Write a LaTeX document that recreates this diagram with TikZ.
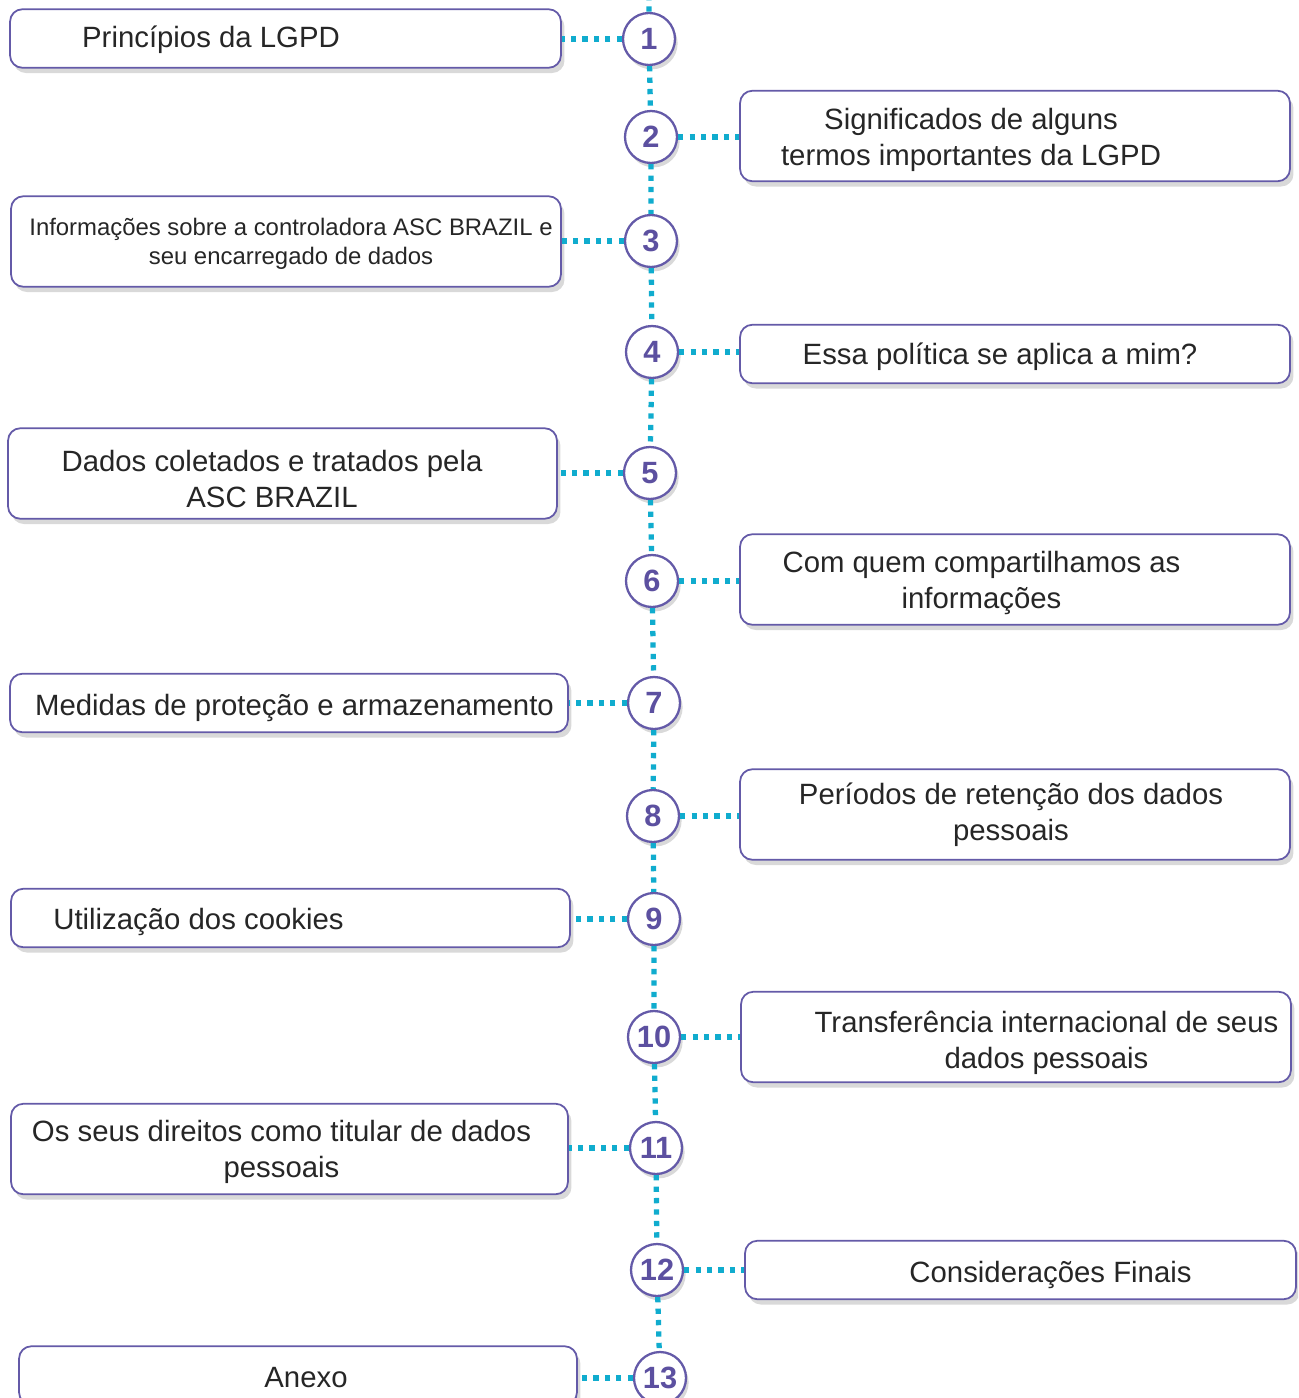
\documentclass[tikz,border=0pt]{standalone}
\usepackage{fontspec}
\setmainfont{Liberation Sans}
\usetikzlibrary{shadows}
\definecolor{lilac}{RGB}{100,90,168}
\definecolor{numink}{RGB}{92,80,160}
\definecolor{dotline}{RGB}{16,172,206}
\definecolor{ink}{RGB}{38,38,38}

\begin{document}
\begin{tikzpicture}[x=0.02cm, y=-0.02cm,
  topic/.style={draw=lilac, line width=1pt, rounded corners=7pt, fill=white,
    drop shadow={opacity=0.3, shadow xshift=2pt, shadow yshift=-3pt}},
  short/.style={minimum height=1.17cm},
  tall/.style={minimum height=1.81cm},
  txt/.style={text=ink, align=center, font=\fontsize{16.7}{20.5}\selectfont},
  smalltxt/.style={text=ink, align=center, font=\fontsize{13.6}{16.5}\selectfont},
  num/.style={circle, draw=lilac, line width=1.3pt, fill=white, minimum size=1.04cm,
    inner sep=0pt, text=numink, font=\fontsize{17.5}{20}\selectfont\bfseries,
    drop shadow={opacity=0.3, shadow xshift=1.5pt, shadow yshift=-2.5pt}},
  link/.style={dotline, line width=3pt, dash pattern=on 3pt off 3.5pt}]
\clip (0,0) rectangle (1298,1398);

\node [topic, short, minimum width=11.02cm] (b1) at (285.5,38.5) {};
\node [topic, tall, minimum width=11cm] (b2) at (1015,136) {};
\node [topic, tall, minimum width=11cm] (b3) at (286,241.5) {};
\node [topic, short, minimum width=11cm] (b4) at (1015,354) {};
\node [topic, tall, minimum width=10.98cm] (b5) at (282.5,473.5) {};
\node [topic, tall, minimum width=11cm] (b6) at (1015,579.5) {};
\node [topic, short, minimum width=11.16cm] (b7) at (289,703) {};
\node [topic, tall, minimum width=11cm] (b8) at (1015,814.5) {};
\node [topic, short, minimum width=11.18cm] (b9) at (290.5,918) {};
\node [topic, tall, minimum width=11cm] (b10) at (1016,1037) {};
\node [topic, tall, minimum width=11.14cm] (b11) at (289.5,1149) {};
\node [topic, short, minimum width=11.02cm] (b12) at (1020.5,1270) {};
\node [topic, short, minimum width=11.16cm] (b13) at (298,1375.5) {};

\node [txt] (t1) at (211,40) {Princípios da LGPD};
\node [txt] (t2) at (971,140) {Significados de alguns\\termos importantes da LGPD};
\node [smalltxt] (t3) at (291,244) {Informações sobre a controladora ASC BRAZIL e\\seu encarregado de dados};
\node [txt] (t4) at (1000,357) {Essa política se aplica a mim?};
\node [txt] (t5) at (272,479) {Dados coletados e tratados pela\\ASC BRAZIL};
\node [txt] (t6) at (981.5,583) {Com quem compartilhamos as\\informações};
\node [txt] (t7) at (294.5,708) {Medidas de proteção e armazenamento};
\node [txt] (t8) at (1011,815) {Períodos de retenção dos dados\\pessoais};
\node [txt] (t9) at (198.5,922) {Utilização dos cookies};
\node [txt] (t10) at (1046.5,1043) {Transferência internacional de seus\\dados pessoais};
\node [txt] (t11) at (281.5,1152) {Os seus direitos como titular de dados\\pessoais};
\node [txt] (t12) at (1050.5,1275) {Considerações Finais};
\node [txt] (t13) at (306,1378) {Anexo};

\foreach \n/\x/\y in {1/649/39, 2/651/137, 3/651/241, 4/652/352, 5/650/473,
    6/652/581, 7/654/703, 8/653/816, 9/654/919, 10/654/1037, 11/656/1148,
    12/657/1270, 13/660/1378}
  \node [num] (c\n) at (\x,\y) {\n};

\coordinate (top) at (649,-5);
\draw [link] (top) -- (c1) -- (c2) -- (c3) -- (c4) -- (c5) -- (c6) -- (c7)
  -- (c8) -- (c9) -- (c10) -- (c11) -- (c12) -- (c13);

\foreach \n in {1,3,5,7,9,11,13}
  \draw [link] (c\n.west) -- (c\n.west -| b\n.east);
\foreach \n in {2,4,6,8,10,12}
  \draw [link] (c\n.east) -- (c\n.east -| b\n.west);
\end{tikzpicture}
\end{document}
